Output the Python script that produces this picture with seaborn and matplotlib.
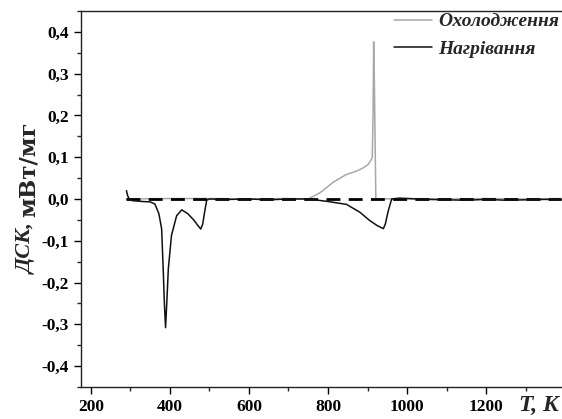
"""
plot.py — DSC curves (heating / cooling) recreated with seaborn.
"""
import numpy as np
import pandas as pd
import matplotlib
matplotlib.use('Agg')
import matplotlib.pyplot as plt
import seaborn as sns
from matplotlib.ticker import MultipleLocator, FuncFormatter

# ─────────────────────────────────────────────────────────────────────────────
# Data
# ─────────────────────────────────────────────────────────────────────────────

T_heat = [290, 293, 297, 305, 330, 350, 362, 372, 379, 383, 386, 389, 392,
          396, 404, 417, 430, 445, 460, 472, 478, 483, 488, 493, 500, 550,
          600, 650, 700, 750, 800, 847, 881, 906, 925, 940, 945, 952, 961,
          980, 1050, 1100, 1150, 1200, 1250, 1300, 1350, 1390]
dsc_heat = [0.020, 0.008, 0.000, -0.004, -0.006, -0.007, -0.012, -0.035,
            -0.071, -0.167, -0.250, -0.308, -0.250, -0.167, -0.087, -0.040,
            -0.026, -0.035, -0.050, -0.065, -0.072, -0.060, -0.030, -0.003,
            0.000, -0.001, 0.000, -0.002, 0.000, 0.000, -0.006, -0.013,
            -0.032, -0.052, -0.064, -0.071, -0.060, -0.030, 0.000, 0.002,
            -0.001, -0.002, -0.003, -0.001, -0.003, -0.002, -0.001, -0.002]

T_cool = [290, 400, 500, 600, 700, 750, 780, 813, 845, 873, 890, 902, 908,
          912, 914, 915.5, 917, 919, 921, 930, 1000, 1100, 1200, 1300, 1390]
dsc_cool = [0.000, 0.001, 0.001, 0.000, 0.001, 0.000, 0.015, 0.040, 0.058,
            0.067, 0.075, 0.083, 0.092, 0.100, 0.200, 0.376, 0.300, 0.150,
            0.000, 0.000, 0.001, 0.000, 0.001, 0.000, 0.001]

T_base = [290, 1390]
dsc_base = [0.0, 0.0]

LABEL_COOL = 'Охолодження'
LABEL_HEAT = 'Нагрівання'

# ─────────────────────────────────────────────────────────────────────────────
# Plot
# ─────────────────────────────────────────────────────────────────────────────

sns.set_theme(style='ticks')
plt.rcParams['font.family'] = ['Liberation Serif', 'DejaVu Serif']
plt.rcParams['font.weight'] = 'bold'

fig = plt.figure(figsize=(5.62, 4.19), dpi=100)
ax = fig.add_axes([0.1441, 0.0764, 0.8559, 0.8974])

heat = pd.DataFrame({'T': T_heat, 'dsc': dsc_heat})
cool = pd.DataFrame({'T': T_cool, 'dsc': dsc_cool})
base = pd.DataFrame({'T': T_base, 'dsc': dsc_base})

sns.lineplot(data=base, x='T', y='dsc', color='black', lw=2.0,
             dashes=False, ls=(0, (5, 3)), ax=ax, zorder=3)
sns.lineplot(data=cool, x='T', y='dsc', color='#a8a8a8', lw=1.1,
             estimator=None, ax=ax, label=LABEL_COOL, zorder=2)
sns.lineplot(data=heat, x='T', y='dsc', color='#111111', lw=1.1,
             estimator=None, ax=ax, label=LABEL_HEAT, zorder=4)

ax.set_xlim(175, 1392)
ax.set_ylim(-0.45, 0.45)

ax.xaxis.set_major_locator(MultipleLocator(200))
ax.xaxis.set_minor_locator(MultipleLocator(100))
ax.yaxis.set_major_locator(MultipleLocator(0.1))
ax.yaxis.set_minor_locator(MultipleLocator(0.05))
ax.yaxis.set_major_formatter(FuncFormatter(
    lambda v, p: f'{v:.1f}'.replace('.', ',') if abs(v) > 1e-9 else '0,0'))
ax.xaxis.set_major_formatter(FuncFormatter(lambda v, p: f'{v:.0f}'))

ax.tick_params(which='major', direction='out', length=5, width=1,
               labelsize=12.5, colors='black')
ax.tick_params(which='minor', direction='out', length=3, width=1)
for lab in ax.get_xticklabels() + ax.get_yticklabels():
    lab.set_fontweight('bold')

for side in ['left', 'bottom', 'top']:
    ax.spines[side].set_color('#222222')
    ax.spines[side].set_linewidth(1.0)
ax.spines['right'].set_visible(False)

ax.set_xlabel('')
ax.set_ylabel('')

# axis titles
fig.text(0.995, 0.008, 'T, K', ha='right', va='bottom', fontsize=17,
         fontweight='bold', fontstyle='italic')

fig.canvas.draw()
t1 = fig.text(0.048, 1 - 274 / 419, 'ДСК,', rotation=90, ha='center',
              va='bottom', fontsize=16, fontweight='bold',
              fontstyle='italic')
fig.canvas.draw()
bb = t1.get_window_extent()
y_top = bb.y1 / fig.bbox.height
fig.text(0.051, y_top + 0.014, 'мВт/мг', rotation=90, ha='center',
         va='bottom', fontsize=16.5, fontweight='bold',
         family=['DejaVu Serif'])

leg = ax.legend(loc='upper right', bbox_to_anchor=(0.994, 0.995),
                frameon=False, handlelength=2.0, handletextpad=0.3,
                labelspacing=0.5, borderpad=0.0, borderaxespad=0.0,
                prop={'weight': 'bold', 'style': 'italic', 'size': 14})

fig.savefig('out.png', dpi=100)
plt.close(fig)
